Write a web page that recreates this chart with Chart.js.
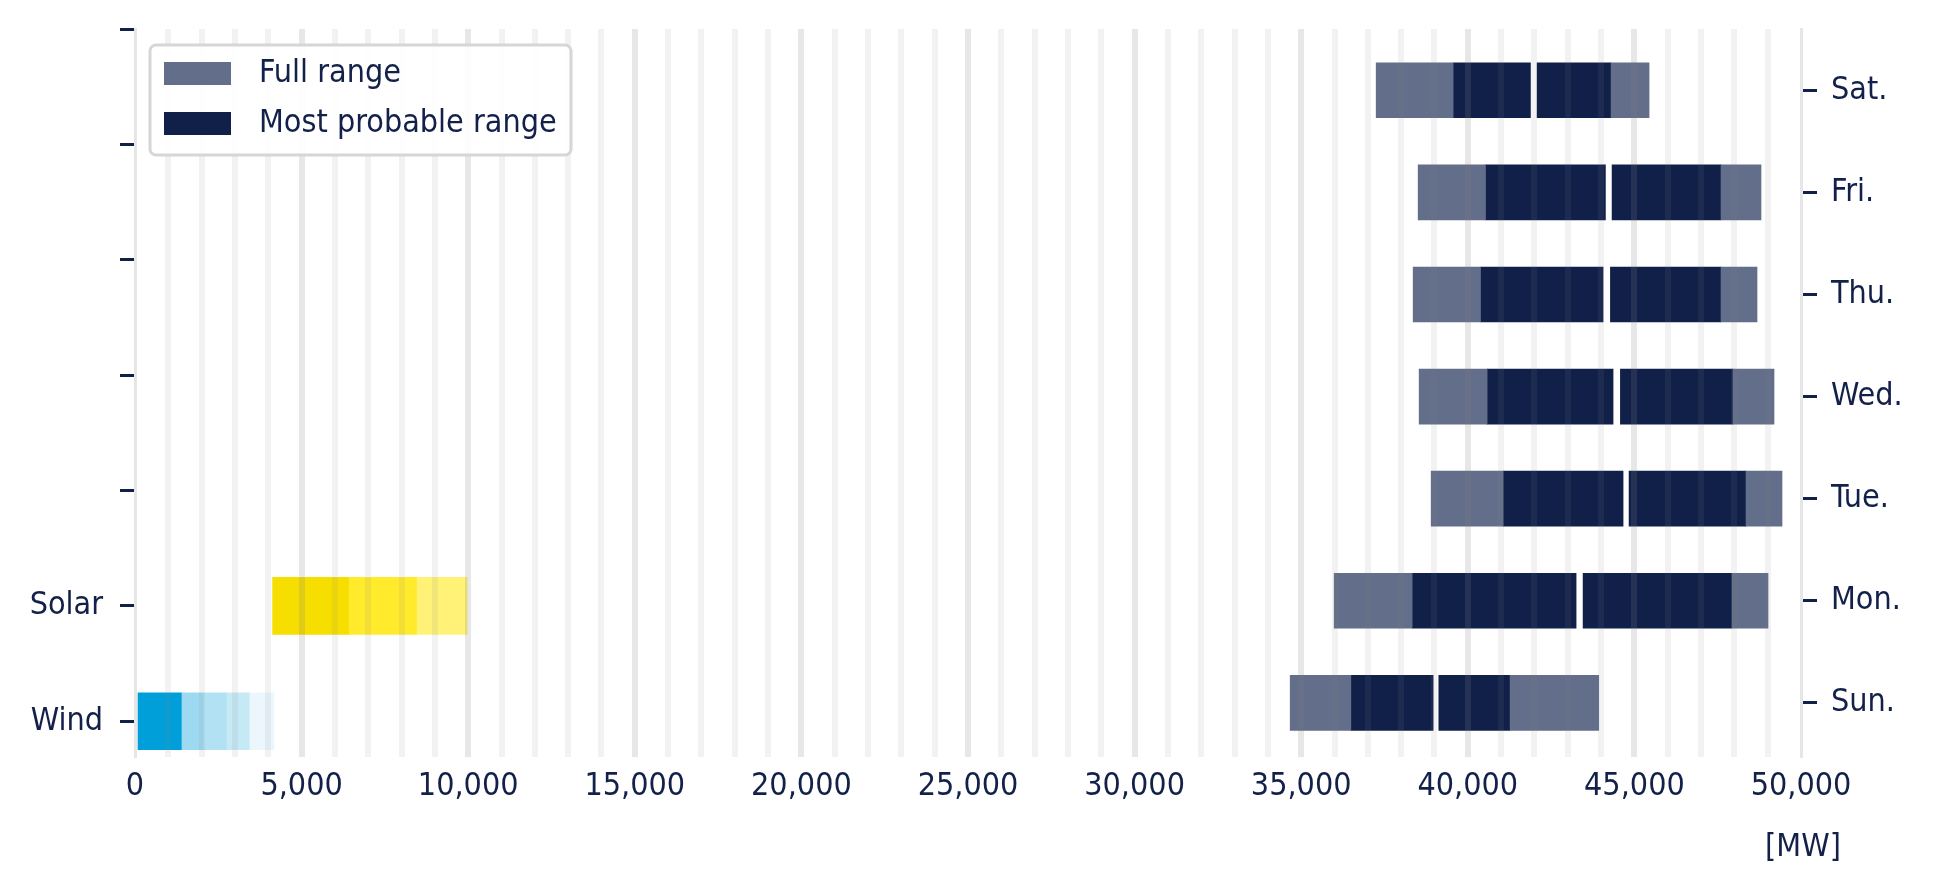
<!DOCTYPE html>
<html>
<head>
<meta charset="utf-8">
<script src="https://cdn.jsdelivr.net/npm/chart.js@4"></script>
<style>
  html, body { margin: 0; padding: 0; background: #fff; }
  #wrap { width: 1937px; height: 894px; }
</style>
</head>
<body>
<div id="wrap"><canvas id="load"></canvas></div>
<script>
// left axis (bottom to top)
const sources = ['Wind', 'Solar', '', '', '', '', ''];
// right axis (bottom to top)
const days = ['Sun.', 'Mon.', 'Tue.', 'Wed.', 'Thu.', 'Fri.', 'Sat.'];

// load forecast per day [MW]
const fullMin     = [34670, 35990, 38900, 38540, 38360, 38510, 37250];
const probLow     = [36490, 38330, 41060, 40580, 40380, 40530, 39560];
const probMidLow  = [38960, 43250, 44660, 44360, 44060, 44130, 41880];
const probMidHigh = [39130, 43460, 44840, 44580, 44280, 44330, 42080];
const probHigh    = [41270, 47930, 48350, 47960, 47600, 47600, 44300];
const fullMax     = [43930, 49010, 49430, 49190, 48680, 48800, 45440];

// renewables, band edges [MW]
const windSteps  = [0, 1390, 2040, 2740, 3430, 4170];
const solarSteps = [4130, 6410, 8450, 9970];

const windColors  = ['#009fda', '#9dd9f1', '#b1e1f3', '#c6e9f6', '#ecf7fd'];
const solarColors = ['#f5de00', '#ffea2c', '#fff277'];
const greyCol = '#636e8a';
const navyCol = '#112049';
const textCol = '#13214a';
const FONT = "'DejaVu Sans Condensed', 'DejaVu Sans', sans-serif";
const FSIZE = 32;

const dayBar = (lo, hi) => days.map((d, i) => ({ y: i, x: [lo[i], hi[i]] }));

const datasets = [
    { label: 'Full range', data: dayBar(fullMin, probLow), backgroundColor: greyCol, yAxisID: 'y2', barThickness: 55 },
    { label: 'Most probable range', data: dayBar(probLow, probMidLow), backgroundColor: navyCol, yAxisID: 'y2', barThickness: 55 },
    { label: 'Full range', data: dayBar(probHigh, fullMax), backgroundColor: greyCol, yAxisID: 'y2', barThickness: 55 },
    { label: 'Most probable range', data: dayBar(probMidHigh, probHigh), backgroundColor: navyCol, yAxisID: 'y2', barThickness: 55 },
];
for (let i = 0; i < windSteps.length - 1; i++) {
    datasets.push({ label: 'Wind', data: [{ y: 0, x: [windSteps[i], windSteps[i + 1]] }],
        backgroundColor: windColors[i], yAxisID: 'y', barThickness: 57 });
}
for (let i = 0; i < solarSteps.length - 1; i++) {
    datasets.push({ label: 'Solar', data: [{ y: 1, x: [solarSteps[i], solarSteps[i + 1]] }],
        backgroundColor: solarColors[i], yAxisID: 'y', barThickness: 57 });
}

// legend box inside the plot + unit label
const legendBox = {
    id: 'legendBox',
    afterDraw(chart) {
        const { ctx, chartArea } = chart;
        const x0 = chartArea.left + 15, y0 = chartArea.top + 16;
        ctx.save();
        ctx.fillStyle = 'rgba(255,255,255,0.92)';
        ctx.strokeStyle = '#d6d6d6';
        ctx.lineWidth = 3;
        ctx.beginPath();
        ctx.roundRect(x0, y0, 421, 110, 6);
        ctx.fill();
        ctx.stroke();
        ctx.font = FSIZE + 'px ' + FONT;
        ctx.textBaseline = 'middle';
        [0, 1].forEach((k) => {
            const ds = chart.data.datasets[k];
            ctx.fillStyle = ds.backgroundColor;
            ctx.fillRect(x0 + 14, y0 + 17 + k * 50, 67, 23);
            ctx.fillStyle = textCol;
            ctx.fillText(ds.label, x0 + 109, y0 + 29 + k * 50);
        });
        const xs = chart.scales.x;
        ctx.textAlign = 'center';
        ctx.fillText('[MW]', xs.getPixelForValue(xs.max) + 2, 848);
        ctx.restore();
    }
};

const fixedTicks = (labels) => (scale) => {
    scale.ticks = labels.map((l, i) => ({ value: i }));
};
// fixed axis width, no extra vertical padding for the outer labels
const fixWidth = (w) => (scale) => {
    scale.width = w;
    scale.paddingTop = 0;
    scale.paddingBottom = 0;
};

new Chart(document.getElementById('load'), {
    type: 'bar',
    data: { datasets },
    options: {
        indexAxis: 'y',
        responsive: true,
        maintainAspectRatio: false,
        animation: false,
        layout: { padding: { top: 29 } },
        datasets: { bar: { grouped: false } },
        scales: {
            x: {
                type: 'linear',
                min: 0,
                max: 50000,
                afterFit: (s) => { s.height = 137; },
                grid: {
                    z: 1,
                    drawTicks: false,
                    lineWidth: 6,
                    color: (c) => {
                        const v = c.tick.value;
                        if (v === 0 || v === 50000) return 'rgba(0,0,0,0)';
                        return v % 5000 === 0 ? 'rgba(125,125,125,0.19)' : 'rgba(140,140,140,0.11)';
                    }
                },
                border: { display: false },
                ticks: {
                    stepSize: 1000,
                    autoSkip: false,
                    maxRotation: 0,
                    padding: 10,
                    color: textCol,
                    font: { family: FONT, size: FSIZE },
                    callback: (v) => (v % 5000 === 0 ? v.toLocaleString('en-US') : '')
                }
            },
            y: {
                type: 'linear',
                position: 'left',
                offset: false,
                min: -0.31,
                max: 6,
                afterBuildTicks: fixedTicks(sources),
                afterFit: fixWidth(135),
                grid: { offset: false, drawOnChartArea: false, tickLength: 15, tickWidth: 3, tickColor: navyCol },
                border: { display: true, color: '#e6e6e6', width: 3 },
                ticks: {
                    padding: 17,
                    color: textCol,
                    font: { family: FONT, size: FSIZE },
                    callback: (v) => sources[v]
                }
            },
            y2: {
                type: 'linear',
                position: 'right',
                offset: false,
                min: -0.53,
                max: 6.6,
                afterBuildTicks: fixedTicks(days),
                afterFit: fixWidth(136),
                grid: { offset: false, drawOnChartArea: false, tickLength: 16, tickWidth: 3, tickColor: navyCol },
                border: { display: true, color: '#e6e6e6', width: 3 },
                ticks: {
                    padding: 14,
                    color: textCol,
                    font: { family: FONT, size: FSIZE },
                    callback: (v) => days[v]
                }
            }
        },
        plugins: {
            legend: { display: false },
            tooltip: { enabled: false }
        }
    },
    plugins: [legendBox]
});
</script>
</body>
</html>
